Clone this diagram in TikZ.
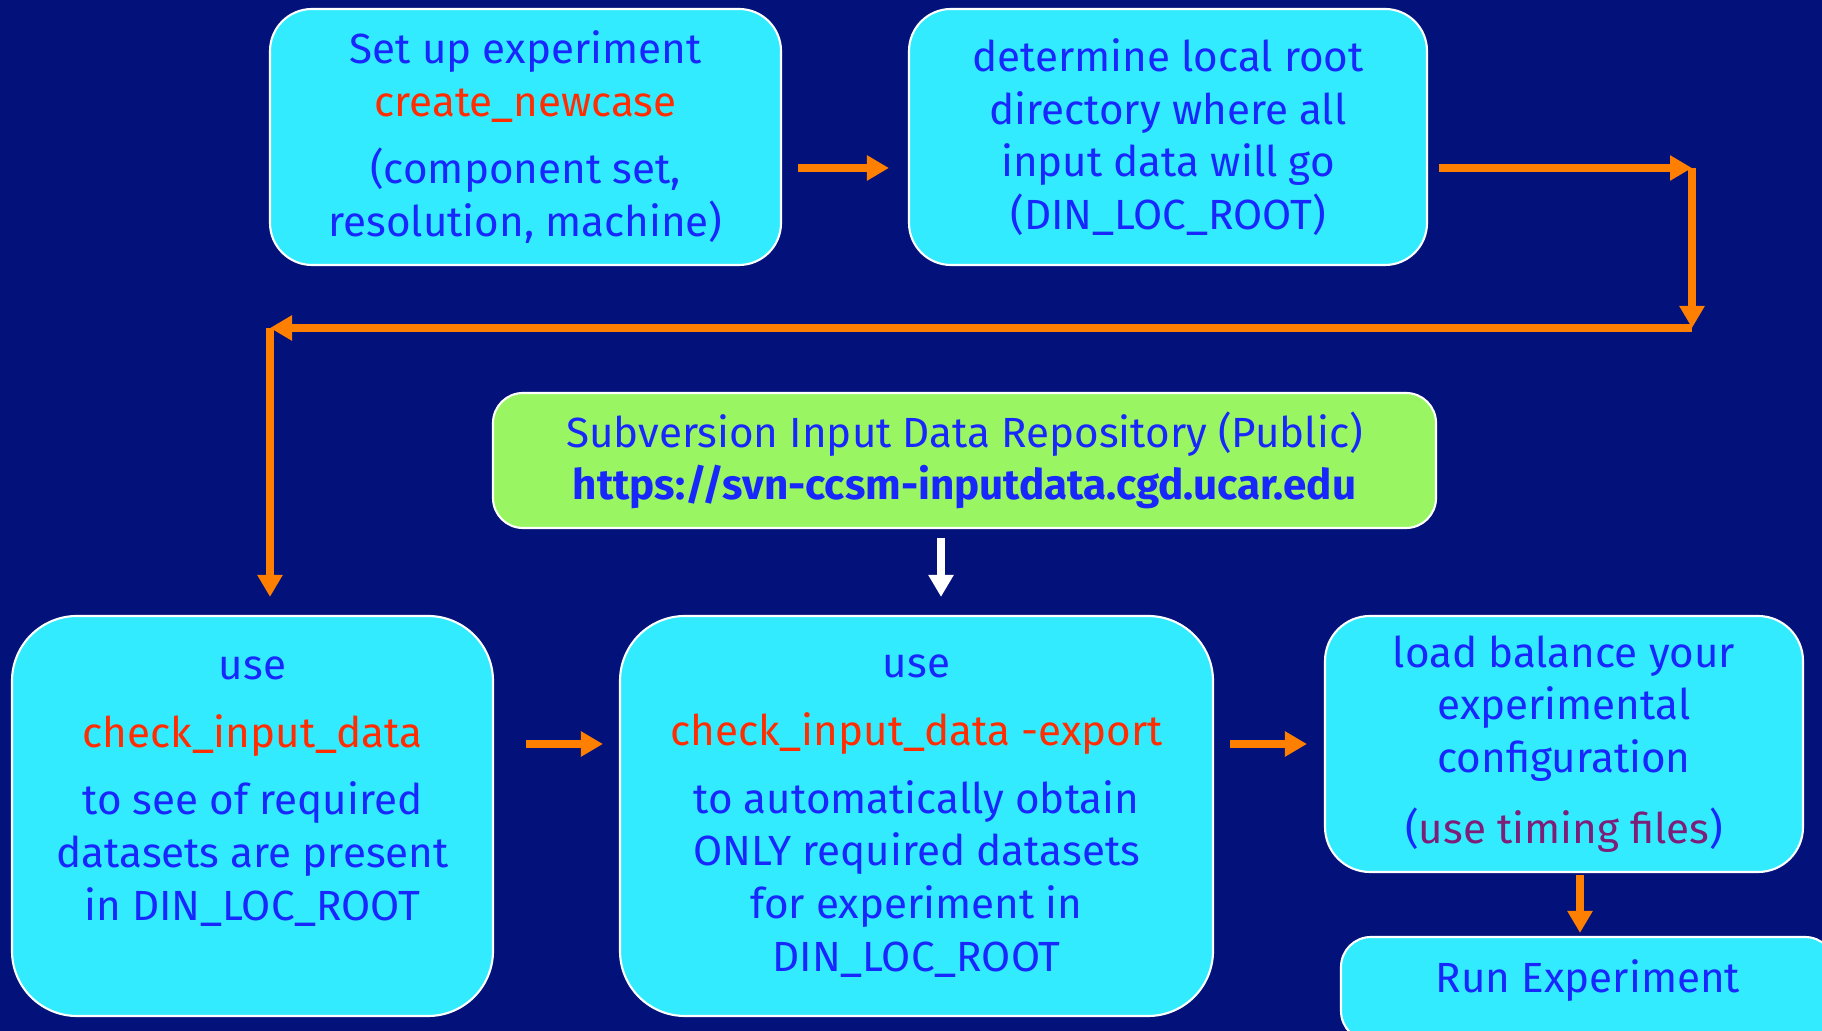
\documentclass[tikz,border=0pt]{standalone}
\usepackage{fontspec}
\setmainfont{Fira Sans}
\usetikzlibrary{arrows.meta,calc}
\definecolor{flowNavy}{RGB}{3, 18, 122}
\definecolor{flowCyan}{RGB}{51, 235, 255}
\definecolor{flowBlue}{RGB}{24, 40, 252}
\definecolor{flowRed}{RGB}{255, 45, 0}
\definecolor{flowOrange}{RGB}{255, 128, 0}
\definecolor{flowGreen}{RGB}{153, 245, 98}
\definecolor{flowPurple}{RGB}{125, 30, 120}

\begin{document}
\begin{tikzpicture}[
  stage/.style={draw=white, line width=0.6pt, fill=flowCyan, align=center, text=flowBlue,
    font=\fontsize{12pt}{15pt}\selectfont, inner sep=0pt},
  arrow/.style={-{Triangle[length=0.22cm, width=0.24cm]}, line width=0.075cm, flowOrange}
]
\clip (0,0) rectangle (18.22,10.31);
\fill[flowNavy] (0,0) rectangle (18.22,10.31);

% top row
\node[stage, rounded corners=0.42cm, minimum width=5.11cm, minimum height=2.56cm] (setup) at (5.255,8.94)
  {Set up experiment\\ \textcolor{flowRed}{create\_newcase}\\[0.15cm] (component set,\\ resolution, machine)};
\node[stage, rounded corners=0.42cm, minimum width=5.18cm, minimum height=2.56cm] (root) at (11.68,8.94)
  {determine local root\\ directory where all\\ input data will go\\ (DIN\_LOC\_ROOT)};

% repository
\node[stage, fill=flowGreen, rounded corners=0.3cm, minimum width=9.43cm, minimum height=1.35cm] (repo) at (9.645,5.705)
  {Subversion Input Data Repository (Public)\\ \textbf{https://svn-ccsm-inputdata.cgd.ucar.edu}};

% bottom row
\node[stage, rounded corners=0.65cm, minimum width=4.81cm, minimum height=4.00cm, text depth=0.55cm] (check) at (2.525,2.15)
  {use\\[0.15cm] \textcolor{flowRed}{check\_input\_data}\\[0.15cm] to see of required\\ datasets are present\\ in DIN\_LOC\_ROOT};
\node[stage, rounded corners=0.65cm, minimum width=5.93cm, minimum height=4.00cm] (export) at (9.165,2.15)
  {use\\[0.15cm] \textcolor{flowRed}{check\_input\_data -export}\\[0.15cm] to automatically obtain\\ ONLY required datasets\\ for experiment in\\ DIN\_LOC\_ROOT};
\node[stage, rounded corners=0.45cm, minimum width=4.78cm, minimum height=2.56cm] (balance) at (15.64,2.87)
  {load balance your\\ experimental\\ configuration\\[0.18cm] (\textcolor{flowPurple}{use timing files})};
\node[stage, rounded corners=0.3cm, minimum width=4.94cm, minimum height=1.04cm, text depth=0.25cm] (run) at (15.88,0.42)
  {Run Experiment};

% connectors
\coordinate (c1) at (16.92,8.63);
\coordinate (c2) at (16.92,7.03);
\coordinate (c3) at (2.70,7.03);
\draw[arrow, shorten <=0.16cm, shorten >=0.19cm] ([yshift=-0.31cm]setup.east) -- ([yshift=-0.31cm]root.west);
\draw[arrow, shorten <=0.11cm] ([yshift=-0.31cm]root.east) -- (c1);
\draw[arrow] (c1) -- (c2);
\draw[arrow] (c2) -- (c3);
\draw[arrow, shorten >=0.18cm] (c3) -- (c3 |- check.north);
\draw[arrow, white, shorten <=0.09cm, shorten >=0.18cm] ([xshift=-0.235cm]repo.south) -- ([xshift=-0.235cm]repo.south |- export.north);
\draw[arrow, shorten <=0.32cm, shorten >=0.16cm] ([yshift=0.72cm]check.east) -- ([yshift=0.72cm]export.west);
\draw[arrow, shorten <=0.16cm, shorten >=0.17cm] ([yshift=0.72cm]export.east) -- (balance.west);
\draw[arrow, shorten <=0.02cm, shorten >=0.03cm] ([xshift=0.16cm]balance.south) -- ([xshift=0.16cm]balance.south |- run.north);
\end{tikzpicture}
\end{document}
